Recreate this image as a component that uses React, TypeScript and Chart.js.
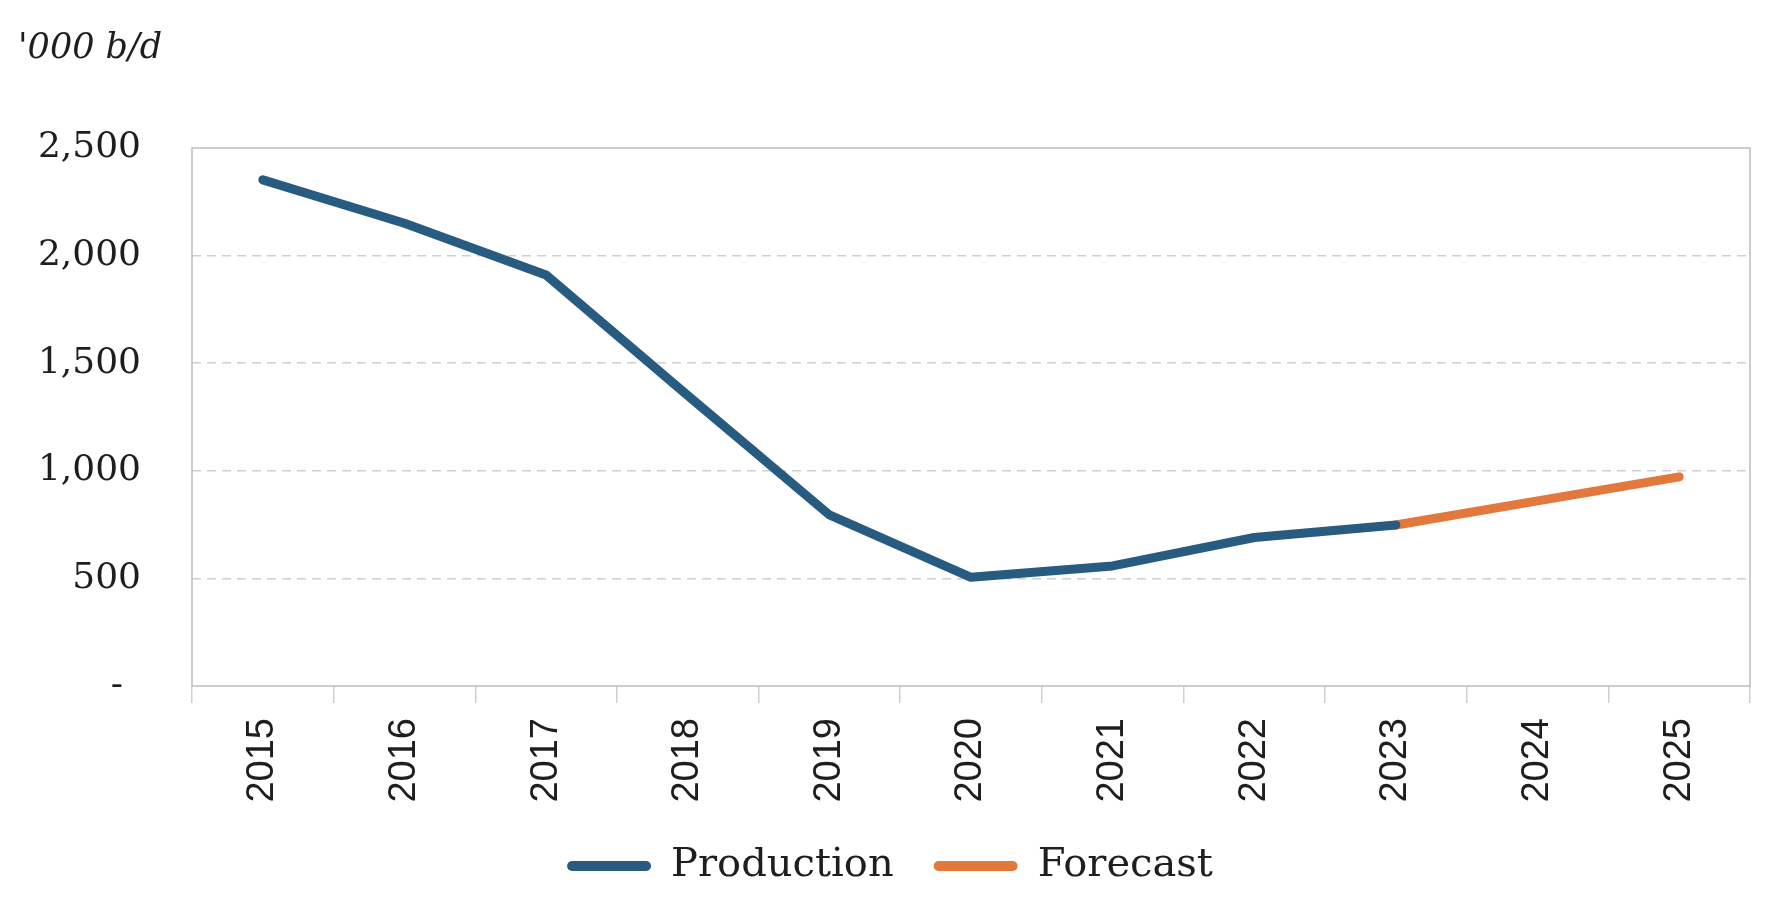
import React, { useEffect, useRef } from 'react';
import { Chart, registerables } from 'chart.js';

Chart.register(...registerables);

// Annual output, thousand barrels per day
const years = ['2015', '2016', '2017', '2018', '2019', '2020', '2021', '2022', '2023', '2024', '2025'];
const production = [2352, 2150, 1910, 1350, 795, 505, 558, 690, 748, null, null];
const forecast = [null, null, null, null, null, null, null, null, 748, 860, 972];
const yTicks = [0, 500, 1000, 1500, 2000, 2500];
const unitCaption = "'000 b/d";

const BLUE = '#275b7f';
const ORANGE = '#e2783b';
const TEXT = '#1e1e1e';

// Solid frame around the plotting area
const plotFrame = {
  id: 'plotFrame',
  beforeDatasetsDraw(chart: any) {
    const { ctx, chartArea } = chart;
    const { left, top, right, bottom } = chartArea;
    ctx.save();
    ctx.strokeStyle = '#bdbdbd';
    ctx.lineWidth = 1.5;
    ctx.strokeRect(left, top, right - left, bottom - top);
    ctx.restore();
  },
};

// Unit caption in the top-left corner
const unitLabel = {
  id: 'unitLabel',
  afterDraw(chart: any) {
    const { ctx } = chart;
    ctx.save();
    ctx.fillStyle = TEXT;
    ctx.font = 'italic 35px "DejaVu Serif", serif';
    ctx.textAlign = 'left';
    ctx.textBaseline = 'alphabetic';
    ctx.fillText(unitCaption, 10, 50);
    ctx.restore();
  },
};

export default function App() {
  const canvasRef = useRef<HTMLCanvasElement | null>(null);

  useEffect(() => {
    if (!canvasRef.current) return;
    const chart = new Chart(canvasRef.current, {
      type: 'line',
      data: {
        labels: years,
        datasets: [
          {
            label: 'Production',
            data: production,
            borderColor: BLUE,
            backgroundColor: BLUE,
            borderWidth: 9,
            borderCapStyle: 'round',
            borderJoinStyle: 'round',
            pointRadius: 0,
            tension: 0,
          },
          {
            label: 'Forecast',
            data: forecast,
            borderColor: ORANGE,
            backgroundColor: ORANGE,
            borderWidth: 9,
            borderCapStyle: 'round',
            borderJoinStyle: 'round',
            pointRadius: 0,
            tension: 0,
          },
        ],
      },
      options: {
        responsive: false,
        animation: false,
        layout: { padding: { left: 22, right: 30, top: 140, bottom: 16 } },
        scales: {
          x: {
            offset: true,
            grid: {
              offset: true,
              drawOnChartArea: false,
              drawTicks: true,
              tickLength: 17,
              color: '#cfcfcf',
              lineWidth: 1.5,
            },
            border: { display: false },
            ticks: {
              autoSkip: false,
              minRotation: 90,
              maxRotation: 90,
              padding: 15,
              color: TEXT,
              font: { family: '"Liberation Sans", Arial, sans-serif', size: 38 },
            },
            afterFit: (scale: any) => {
              scale.height = 150;
            },
          },
          y: {
            min: 0,
            max: 2500,
            afterBuildTicks: (scale: any) => {
              scale.ticks = yTicks.map((v) => ({ value: v }));
            },
            afterFit: (scale: any) => {
              scale.width = 162;
            },
            grid: {
              drawTicks: false,
              lineWidth: 1.5,
              color: (c: any) =>
                c.tick && (c.tick.value === 0 || c.tick.value === 2500) ? 'rgba(0,0,0,0)' : '#cfcfcf',
            },
            border: { display: false, dash: [9, 6] },
            ticks: {
              padding: 51,
              color: TEXT,
              font: { family: '"DejaVu Serif", serif', size: 36 },
              callback: (v: any) => (Number(v) === 0 ? '-\u2002' : Number(v).toLocaleString('en-US')),
            },
          },
        },
        plugins: {
          title: { display: false },
          legend: {
            position: 'bottom',
            labels: {
              boxWidth: 84,
              boxHeight: 10,
              useBorderRadius: true,
              borderRadius: 5,
              padding: 10,
              color: TEXT,
              font: { family: '"DejaVu Serif", serif', size: 40 },
              generateLabels: (ch: any) =>
                Chart.defaults.plugins.legend.labels
                  .generateLabels(ch)
                  .map((item: any, i: number) => ({
                    ...item,
                    lineWidth: 0,
                    text: i === 0 ? item.text + '\u2002\u2005' : item.text,
                  })),
            },
          },
          tooltip: { enabled: false },
        },
      },
      plugins: [plotFrame, unitLabel],
    });
    return () => chart.destroy();
  }, []);

  return <canvas ref={canvasRef} width={1772} height={904} style={{ display: 'block' }} />;
}
